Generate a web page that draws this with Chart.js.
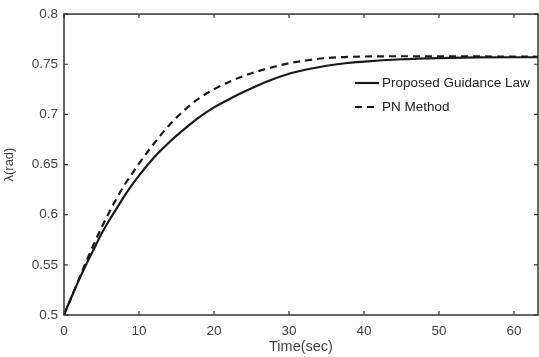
<!DOCTYPE html>
<html>
<head>
<meta charset="utf-8">
<script src="https://cdn.jsdelivr.net/npm/chart.js@4.4.1/dist/chart.umd.min.js"></script>
<style>
  html, body { margin: 0; padding: 0; background: #fff; }
  #wrap { width: 539px; height: 357px; }
</style>
</head>
<body>
<div id="wrap"><canvas id="myChart" width="539" height="357"></canvas></div>
<script>
// values
const timeSec     = [0, 1, 2, 3, 4, 5, 6, 7, 8, 9, 10, 12, 14, 16, 18, 20, 22.5, 25, 27.5, 30, 32.5, 35, 37.5, 40, 45, 50, 55, 60, 63.2];
const proposedLaw = [0.500, 0.518, 0.535, 0.551, 0.566, 0.581, 0.594, 0.606, 0.618, 0.629, 0.639, 0.657, 0.672, 0.685, 0.697, 0.707, 0.717, 0.726, 0.734, 0.7405, 0.745, 0.7485, 0.751, 0.7527, 0.755, 0.7562, 0.7568, 0.757, 0.757];
const pnMethod    = [0.500, 0.518, 0.536, 0.554, 0.571, 0.587, 0.602, 0.616, 0.629, 0.640, 0.651, 0.671, 0.689, 0.704, 0.716, 0.725, 0.734, 0.741, 0.7465, 0.751, 0.754, 0.7562, 0.7572, 0.7577, 0.758, 0.758, 0.7578, 0.7576, 0.7575];
const seriesNames = ['Proposed Guidance Law', 'PN Method'];
const xTicks = [0, 10, 20, 30, 40, 50, 60];
const yTicks = [0.5, 0.55, 0.6, 0.65, 0.7, 0.75, 0.8];

const axisColor = '#333';
const textColor = '#444';
const fontFam = '"Liberation Sans", Arial, sans-serif';

//pair up x and y
function pts(ys){ return timeSec.map((t, i) => ({x: t, y: ys[i]})); }

// box round the plot with inward ticks on all four sides
const frameTicks = {
  id: 'frameTicks',
  afterDraw(chart){
    const {ctx, chartArea: a, scales} = chart;
    ctx.save();
    ctx.strokeStyle = axisColor;
    ctx.lineWidth = 1.5;
    ctx.strokeRect(a.left, a.top, a.right - a.left, a.bottom - a.top);
    ctx.lineWidth = 1.2;
    const len = 4;
    xTicks.forEach(v => {
      const px = scales.x.getPixelForValue(v);
      ctx.beginPath();
      ctx.moveTo(px, a.bottom); ctx.lineTo(px, a.bottom - len);
      ctx.moveTo(px, a.top); ctx.lineTo(px, a.top + len);
      ctx.stroke();
    });
    yTicks.forEach(v => {
      const py = scales.y.getPixelForValue(v);
      ctx.beginPath();
      ctx.moveTo(a.left, py); ctx.lineTo(a.left + len, py);
      ctx.moveTo(a.right, py); ctx.lineTo(a.right - len, py);
      ctx.stroke();
    });
    ctx.restore();
  }
};

// legend inside the axes, like matlab
const insideLegend = {
  id: 'insideLegend',
  afterDraw(chart){
    const ctx = chart.ctx;
    const x0 = 355, x1 = 379, y0 = 83, dy = 24;
    ctx.save();
    ctx.font = '13.5px ' + fontFam;
    ctx.textBaseline = 'middle';
    chart.data.datasets.forEach((ds, i) => {
      const y = y0 + i * dy;
      ctx.strokeStyle = ds.borderColor;
      ctx.lineWidth = ds.borderWidth;
      ctx.setLineDash(ds.borderDash || []);
      ctx.beginPath(); ctx.moveTo(x0, y); ctx.lineTo(x1, y); ctx.stroke();
      ctx.setLineDash([]);
      ctx.fillStyle = '#222';
      ctx.fillText(ds.label, x1 + 3, y);
    });
    ctx.restore();
  }
};

const chartData = {
  datasets: [
    {
      label: seriesNames[0],
      data: pts(proposedLaw),
      borderColor: '#1a1a1a',
      borderWidth: 2.2,
      pointRadius: 0,
      cubicInterpolationMode: 'monotone'
    },
    {
      label: seriesNames[1],
      data: pts(pnMethod),
      borderColor: '#1a1a1a',
      borderWidth: 2.2,
      borderDash: [7, 5],
      pointRadius: 0,
      cubicInterpolationMode: 'monotone'
    }
  ]
};

const chartConfig = {
  type: 'line',
  data: chartData,
  options: {
    responsive: false,
    animation: false,
    layout: { padding: { top: 13, right: 1, left: 0, bottom: 0 } },
    plugins: { legend: { display: false }, tooltip: { enabled: false } },
    scales: {
      x: {
        type: 'linear',
        min: 0, max: 63.2,
        grid: { display: false, drawTicks: false },
        border: { display: false },
        afterBuildTicks: s => { s.ticks = xTicks.map(v => ({value: v})); },
        afterFit: s => { s.height = 42; },
        ticks: { color: textColor, padding: 8, font: { size: 13.5, family: fontFam }, maxRotation: 0 },
        title: { display: true, text: 'Time(sec)', color: textColor, padding: { top: 0, bottom: 1 }, font: { size: 14.5, family: fontFam } }
      },
      y: {
        min: 0.5, max: 0.8,
        grid: { display: false, drawTicks: false },
        border: { display: false },
        afterBuildTicks: s => { s.ticks = yTicks.map(v => ({value: v})); },
        afterFit: s => { s.width = 64; },
        ticks: { color: textColor, padding: 6, font: { size: 13.5, family: fontFam }, callback: v => String(+v.toFixed(2)) },
        title: { display: true, text: 'λ(rad)', color: textColor, padding: { top: 2, bottom: 0 }, font: { size: 13, family: fontFam } }
      }
    }
  },
  plugins: [frameTicks, insideLegend]
};

const myChart = new Chart(document.getElementById('myChart'), chartConfig);
</script>
</body>
</html>
